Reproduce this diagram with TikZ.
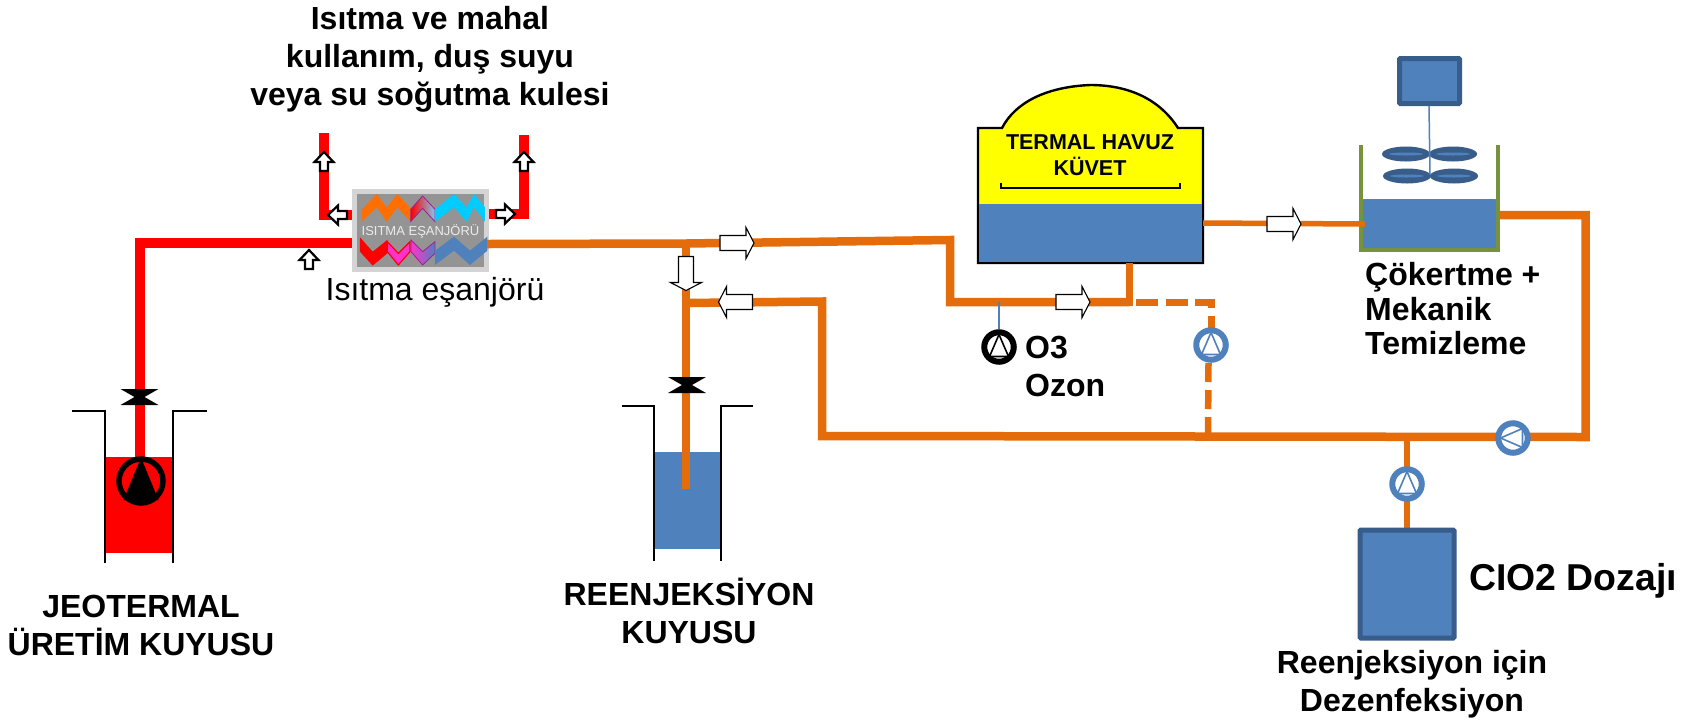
\documentclass[tikz,border=0pt]{standalone}
\usepackage{fontspec}
\setmainfont{Liberation Sans}
\usetikzlibrary{calc}
\definecolor{pipeor}{HTML}{E46C0A}
\definecolor{pipered}{HTML}{FF0000}
\definecolor{wblue}{HTML}{4F81BD}
\definecolor{dblue}{HTML}{385D8A}
\definecolor{tankgreen}{HTML}{76923C}
\definecolor{zorange}{HTML}{FF6E00}
\definecolor{zcyan}{HTML}{00CCFF}
\definecolor{zpink}{HTML}{FF33CC}
\definecolor{zpurple}{HTML}{A01E96}
\definecolor{zlight}{HTML}{80C8F0}
\definecolor{zyellow}{HTML}{FFFF00}
\tikzset{
  redpipe/.style={draw=pipered,line width=10pt,line join=miter},
  orpipe/.style={draw=pipeor,line width=8.5pt,line join=miter},
  orthin/.style={draw=pipeor,line width=5.5pt},
  ordash/.style={draw=pipeor,line width=7pt,dash pattern=on 22pt off 7.5pt},
  wellwall/.style={draw=black,line width=2.4pt},
  lab/.style={inner sep=0pt,font=\fontsize{32}{38}\selectfont\bfseries,align=center},
  labl/.style={inner sep=0pt,font=\fontsize{32}{34.5}\selectfont\bfseries,align=left},
  boxblue/.style={draw=dblue,fill=wblue,line width=5pt,rounded corners=1pt},
  pumpring/.style={circle,draw=#1,fill=white,line width=6pt,minimum size=29.5pt,inner sep=0pt},
  pics/pumpsym/.style={code={\draw[line width=1.6pt,draw=#1,fill=white,line join=round] (0,-12.5) -- (-9.5,9.5) -- (9.5,9.5) -- cycle;}},
  pics/pumpsym/.default=wblue,
  flowbig/.pic={\draw[draw=black,fill=white,line width=1.1pt] (-17,-7.5) -- (9,-7.5) -- (9,-15.5) -- (17,0) -- (9,15.5) -- (9,7.5) -- (-17,7.5) -- cycle;},
  flowsmall/.pic={\draw[draw=black,fill=white,line width=2.2pt,line join=miter] (-9,-4) -- (0,-4) -- (0,-9.5) -- (10,0) -- (0,9.5) -- (0,4) -- (-9,4) -- cycle;},
  valvesym/.pic={\fill[black] (-19,-8) -- (19,-8) -- (5,0) -- (19,8) -- (-19,8) -- (-5,0) -- cycle;},
  blade/.pic={\fill[dblue] (0,0) ellipse [x radius=24,y radius=7.5];\fill[wblue] (0,0) ellipse [x radius=17,y radius=1.5];},
}
\begin{document}
\begin{tikzpicture}[x=1pt,y=-1pt]
\useasboundingbox (0,0) rectangle (1696,724);
\fill[white] (0,0) rectangle (1696,724);

% named junctions
\coordinate (wellA) at (139.5,457);
\coordinate (cornerA) at (139.5,242.5);
\coordinate (hxIn) at (365,242.5);
\coordinate (hxOut) at (487,244);
\coordinate (hxTL) at (362,215);
\coordinate (cornerTL) at (323.5,215);
\coordinate (topTL) at (323.5,133);
\coordinate (hxTR) at (486,214);
\coordinate (cornerTR) at (524,214);
\coordinate (topTR) at (524,135);
\coordinate (teeMain) at (686,243.5);
\coordinate (mainEnd) at (950,240);
\coordinate (o3Line) at (950,302);
\coordinate (poolTee) at (1129,302);
\coordinate (poolBot) at (1129,263);
\coordinate (dashCorner) at (1211,302);
\coordinate (dashPump) at (1211,345);
\coordinate (dashEnd) at (1208,436);
\coordinate (retTee) at (686,303);
\coordinate (retCorner) at (822,301.5);
\coordinate (lowCorner) at (822,436);
\coordinate (lowEnd) at (1585.5,437);
\coordinate (injEnd) at (686,489);
\coordinate (poolOut) at (1203,223);
\coordinate (tankIn) at (1365,224);
\coordinate (tankOut) at (1498,215);
\coordinate (tankCorner) at (1585.5,215);
\coordinate (doseTee) at (1407,437);
\coordinate (doseBox) at (1407,528);
\coordinate (o3Tap) at (999,302);

% production well
\fill[pipered] (105,457) rectangle (173,553);
\draw[redpipe] (wellA) -- (cornerA) -- (hxIn);
\draw[wellwall] (72,411) -- (105,411) -- (105,563);
\draw[wellwall] (207,411) -- (173,411) -- (173,563);
\pic at (139.5,397) {valvesym};
\node[circle,draw=black,fill=pipered,line width=5.5pt,minimum size=44pt,inner sep=0pt] (pumpA) at (141,481) {};
\fill[black] (141,457.5) -- (123.5,500) -- (158.5,500) -- cycle;

% exchanger
\draw[redpipe] (topTL) -- (cornerTL) -- (hxTL);
\draw[redpipe] (topTR) -- (cornerTR) -- (hxTR);
\fill[black!17] (352,189) rectangle (489,272);
\fill[black!42] (357,194) rectangle (484,267);
\begin{scope}[shift={(300,120)},x=.3333pt,y=-.3333pt]
\fill[zorange] (185,270)--(230,222)--(260,262)--(292,222)--(332,265)--(332,305)--(292,262)--(260,305)--(230,262)--(185,305)--cycle;
\shade[left color=pipered,right color=zlight,draw=zpurple,line width=.8pt] (332,268)--(368,228)--(405,268)--(405,305)--(368,265)--(332,305)--cycle;
\fill[zcyan] (405,268)--(462,222)--(500,262)--(522,222)--(555,262)--(555,305)--(522,262)--(500,305)--(462,262)--(405,305)--cycle;
\fill[pipered] (180,352)--(218,395)--(262,360)--(262,400)--(218,437)--(180,395)--cycle;
\draw[draw=pipered,fill=zpink,line width=1.2pt] (262,365)--(295,400)--(330,365)--(330,395)--(295,435)--(262,395)--cycle;
\shade[left color=zpink,right color=wblue,draw=zpurple,line width=.8pt] (333,360)--(368,395)--(405,365)--(405,400)--(368,435)--(333,395)--cycle;
\fill[wblue] (405,392)--(462,350)--(510,392)--(562,350)--(562,392)--(510,435)--(462,392)--(405,435)--cycle;
\end{scope}
\node[inner sep=0pt,text=white!92!black,font=\fontsize{13}{13}\selectfont] (hxText) at (420.5,231.5) {ISITMA EŞANJÖRÜ};
\node[inner sep=0pt,font=\fontsize{32}{32}\selectfont] (hxLabel) at (435,292) {Isıtma eşanjörü};

\pic at (309,260) [rotate=90] {flowsmall};
\pic at (324,162) [rotate=90] {flowsmall};
\pic at (524,162) [rotate=90] {flowsmall};
\pic at (338,215) [rotate=180] {flowsmall};
\pic at (505,214) {flowsmall};

% orange network
\draw[orpipe] (hxOut) -- (teeMain) -- (mainEnd) -- (o3Line) -- (poolTee);
\draw[orpipe] (teeMain) -- (injEnd);
\draw[orpipe] (retTee) -- (retCorner) -- (lowCorner) -- (lowEnd) -- (tankCorner) -- (tankOut);
\draw[ordash] ($(poolTee)+(7,0)$) -- (dashCorner) -- (dashPump);
\draw[draw=pipeor,line width=6.5pt,dash pattern=on 19pt off 8pt] (1208.5,363) -- (dashEnd);
\draw[orthin] (doseTee) -- (doseBox);

% reinjection well
\fill[wblue] (654,452) rectangle (721,549);
\draw[orpipe] (686,420) -- (injEnd);
\draw[wellwall] (622,406) -- (654,406) -- (654,561);
\draw[wellwall] (753,406) -- (721,406) -- (721,561);
\pic at (687,385) {valvesym};

% pool
\draw[draw=black,line width=2.4pt,fill=zyellow] (978,263) -- (978,128) -- (1002,128) .. controls (1015,103) and (1045,87) .. (1090,85) .. controls (1130,85) and (1160,100) .. (1178,128) -- (1203,128) -- (1203,263) -- cycle;
\fill[wblue] (979.2,204) rectangle (1201.8,261.8);
\draw[black,line width=1.6pt] (1001,183) -- (1001,188) -- (1180,188) -- (1180,183);
\node[inner sep=0pt,align=center,font=\fontsize{21.5}{26}\selectfont\bfseries] (poolText) at (1090,155) {TERMAL HAVUZ\\KÜVET};
\draw[draw=pipeor,line width=7pt] (poolBot) -- ($(poolTee)+(0,3.5)$);

% tank
\fill[wblue,rounded corners=2pt] (1362,199) rectangle (1497,249);
\draw[draw=tankgreen,line width=3.5pt] (1361,145) -- (1361,250) -- (1498,250) -- (1498,145);
\draw[orthin] (poolOut) -- (tankIn);
\draw[boxblue] (1399.5,58.5) rectangle (1459.5,103.5);
\node[inner sep=0pt,minimum size=0pt] (motor) at (1429,106) {};
\node[inner sep=0pt,minimum size=0pt] (hub) at (1430,175) {};
\pic at (1406,154) {blade};
\pic at (1453,154) {blade};
\pic at (1407,176) {blade};
\pic at (1454,176) {blade};
\draw[draw=wblue,line width=1.5pt] (motor) -- (hub);

% flow arrows
\pic at (737,243) {flowbig};
\pic at (686,273.5) [rotate=-90] {flowbig};
\pic at (735.5,302) [rotate=180] {flowbig};
\pic at (1073,302) {flowbig};
\pic at (1284,224) {flowbig};

% dosing box
\draw[boxblue] (1360,530) rectangle (1454,638);

% pumps
\node[pumpring=black] (pumpO) at (999,347) {};
\pic at (999,347) {pumpsym=black};
\draw[draw=wblue,line width=1.3pt] (o3Tap) -- (pumpO);
\node[pumpring=wblue] (pumpD) at (1211,345) {};
\pic at (1211,345) {pumpsym};
\node[pumpring=wblue] (pumpM) at (1513,438) {};
\pic at (1513,438) [rotate=90] {pumpsym};
\node[pumpring=wblue] (pumpC) at (1407,484) {};
\pic at (1407,484) {pumpsym};

% labels
\node[lab] (title) at (430,59) {Isıtma ve mahal\\kullanım, duş suyu\\veya su soğutma kulesi};
\node[lab] (l1) at (141,625) {JEOTERMAL\\ÜRETİM KUYUSU};
\node[lab] (l2) at (689,610.5) {REENJEKSİYON\\KUYUSU};
\node[labl,anchor=west] (l3) at (1365,309) {Çökertme +\\Mekanik\\Temizleme};
\node[labl,anchor=west,font=\fontsize{32}{38}\selectfont\bfseries] (l4) at (1025,366) {O3\\Ozon};
\node[inner sep=0pt,anchor=west,font=\fontsize{37.4}{37.4}\selectfont\bfseries] (l5) at (1469,581) {CIO2 Dozajı};
\node[lab] (l6) at (1412,684) {Reenjeksiyon için\\Dezenfeksiyon};
\end{tikzpicture}
\end{document}
